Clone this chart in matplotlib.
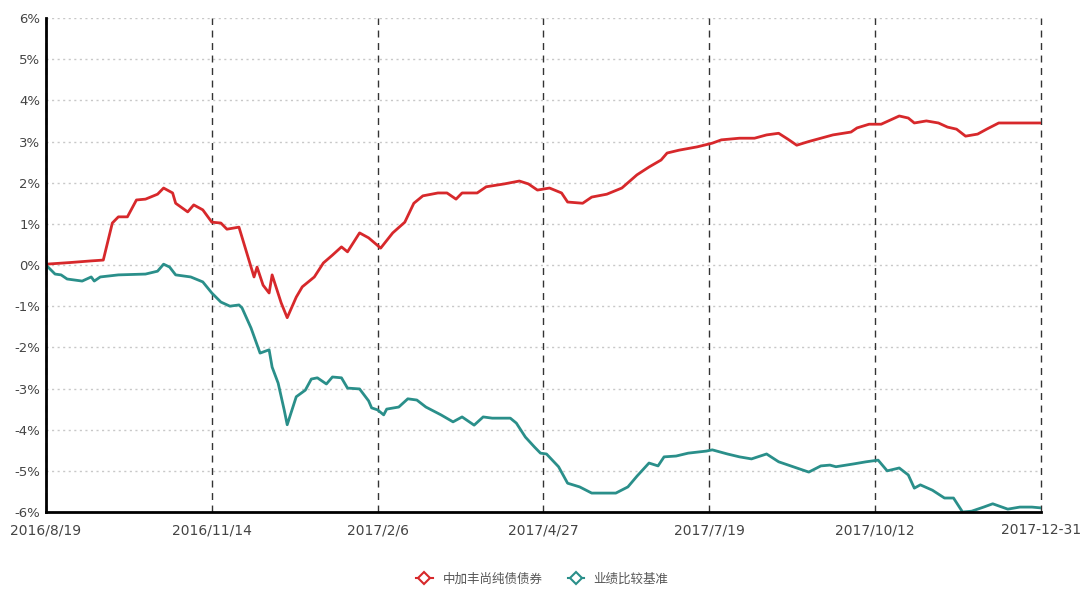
import matplotlib.pyplot as plt
from matplotlib.lines import Line2D
from matplotlib.ticker import FuncFormatter

# trading-day index (0..330) and cumulative return in %
fund_idx = [0, 8, 15, 19, 22, 24, 27, 30, 33, 37, 39, 42, 43, 47, 49, 52, 55, 58, 60, 64,
            69, 70, 72, 74, 75, 78, 80, 83, 85, 89, 92, 95, 98, 100, 104, 107, 111, 115, 119, 122,
            125, 130, 133, 136, 138, 143, 146, 152, 157, 160, 163, 167, 171, 173, 178, 181, 186, 191, 196, 200,
            204, 206, 210, 216, 221, 224, 230, 235, 239, 243, 246, 249, 253, 257, 261, 267, 269, 273, 277, 280,
            283, 286, 288, 292, 296, 299, 302, 305, 309, 312, 316, 321, 325, 330]
fund_ret = [0.02, 0.06, 0.10, 0.12, 1.02, 1.17, 1.17, 1.58, 1.60, 1.72, 1.87, 1.75, 1.50, 1.29, 1.46, 1.34, 1.04, 1.02, 0.87, 0.92,
            -0.29, -0.05, -0.49, -0.68, -0.24, -0.92, -1.28, -0.78, -0.53, -0.29, 0.05, 0.24, 0.44, 0.32, 0.78, 0.66, 0.41, 0.78, 1.04, 1.50,
            1.68, 1.75, 1.75, 1.60, 1.75, 1.75, 1.90, 1.97, 2.04, 1.97, 1.82, 1.87, 1.75, 1.53, 1.50, 1.65, 1.72, 1.87, 2.19, 2.38,
            2.55, 2.72, 2.79, 2.87, 2.96, 3.04, 3.08, 3.08, 3.16, 3.20, 3.06, 2.91, 3.00, 3.08, 3.16, 3.23, 3.33, 3.42, 3.42, 3.52,
            3.62, 3.57, 3.45, 3.50, 3.45, 3.35, 3.30, 3.13, 3.18, 3.30, 3.45, 3.45, 3.45, 3.45]

bench_idx = [0, 3, 5, 7, 12, 15, 16, 18, 24, 33, 37, 39, 41, 43, 48, 52, 55, 58, 61, 64,
             65, 68, 71, 74, 75, 77, 79, 80, 83, 86, 88, 90, 93, 95, 98, 100, 104, 107, 108, 110,
             112, 113, 117, 120, 123, 126, 131, 135, 138, 141, 142, 145, 148, 154, 156, 159, 162, 164, 166, 170,
             173, 177, 181, 189, 193, 196, 200, 203, 205, 209, 213, 219, 221, 226, 230, 234, 239, 243, 249, 253,
             257, 260, 262, 268, 272, 276, 279, 283, 286, 288, 290, 294, 298, 301, 304, 307, 311, 314, 319, 323,
             327, 330]
bench_ret = [0.0, -0.22, -0.24, -0.34, -0.39, -0.29, -0.39, -0.29, -0.24, -0.22, -0.15, 0.02, -0.05, -0.24, -0.29, -0.41, -0.68, -0.90, -1.00, -0.97,
             -1.04, -1.53, -2.14, -2.06, -2.48, -2.87, -3.52, -3.88, -3.20, -3.04, -2.77, -2.74, -2.89, -2.72, -2.74, -2.99, -3.01, -3.30, -3.47, -3.52,
             -3.64, -3.50, -3.45, -3.25, -3.28, -3.45, -3.64, -3.81, -3.69, -3.84, -3.89, -3.69, -3.72, -3.72, -3.84, -4.18, -4.42, -4.57, -4.59, -4.90,
             -5.30, -5.39, -5.54, -5.54, -5.39, -5.13, -4.81, -4.88, -4.66, -4.64, -4.57, -4.52, -4.49, -4.59, -4.66, -4.71, -4.59, -4.78, -4.93, -5.03,
             -4.88, -4.86, -4.90, -4.83, -4.78, -4.74, -5.00, -4.93, -5.10, -5.42, -5.34, -5.47, -5.66, -5.66, -6.00, -5.98, -5.88, -5.80, -5.93, -5.88,
             -5.88, -5.90]

tick_pos = [0, 55, 110, 165, 220, 275, 330]
tick_labels = ["2016/8/19", "2016/11/14", "2017/2/6", "2017/4/27", "2017/7/19", "2017/10/12", "2017-12-31"]
series_names = ["中加丰尚纯债债券", "业绩比较基准"]

plt.rcParams['font.family'] = ['DejaVu Sans', 'Noto Sans CJK SC']

fig = plt.figure(figsize=(10.85, 5.92), dpi=100)
ax = fig.add_axes([0.0424, 0.1351, 0.917, 0.8345])

red = "#d7282b"
teal = "#2a8f8a"
ax.plot(fund_idx, fund_ret, color=red, lw=2)
ax.plot(bench_idx, bench_ret, color=teal, lw=2)

ax.set_xlim(0, 330)
ax.set_ylim(-6, 6)
ax.set_yticks(range(-6, 7))
ax.yaxis.set_major_formatter(FuncFormatter(lambda v, p: f"{int(v)}%"))
ax.set_xticks(tick_pos)
ax.set_xticklabels(tick_labels)

for y in range(-6, 7):
    ax.axhline(y, color="#c8c8c8", lw=1, ls=(0, (1.5, 2.5)), zorder=0)
for x in tick_pos:
    ax.axvline(x, color="#333333", lw=1, ls=(0, (5, 4)), zorder=0, clip_on=False)

for s in ["top", "right"]:
    ax.spines[s].set_visible(False)
ax.spines["left"].set_linewidth(2)
ax.spines["bottom"].set_linewidth(2)
ax.tick_params(length=0, colors="#444444")
ax.tick_params(axis="y", labelsize=9.5, pad=4)
ax.tick_params(axis="x", labelsize=10, pad=8)

handles = [Line2D([], [], color=red, lw=1.5, marker="D", ms=6, mfc="white", mec=red, mew=1.5),
           Line2D([], [], color=teal, lw=1.5, marker="D", ms=6, mfc="white", mec=teal, mew=1.5)]
leg = fig.legend(handles, series_names, loc="lower center", bbox_to_anchor=(0.5, -0.008), ncol=2,
                 frameon=False, numpoints=1, handlelength=1.3, columnspacing=2,
                 prop={'family': ['Noto Sans CJK SC'], 'size': 9})
for t in leg.get_texts():
    t.set_color("#555555")

fig.savefig("out.png", dpi=100)
